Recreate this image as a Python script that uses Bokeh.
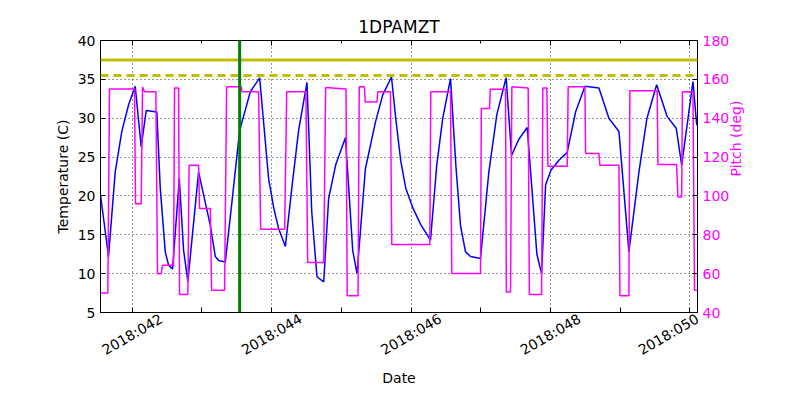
import math
from bokeh.plotting import figure
from bokeh.models import (Range1d, LinearAxis, FixedTicker, Span, CustomLabelingPolicy,
                          CustomJSTickFormatter)
from bokeh.embed import file_html
from bokeh.resources import INLINE

chart_title = "1DPAMZT"
x_label = "Date"
y_label = "Temperature (C)"
y2_label = "Pitch (deg)"

x_tick_days = [42, 44, 46, 48, 50]
x_tick_labels = ["2018:042", "2018:044", "2018:046", "2018:048", "2018:050"]
x_minor_days = [43, 45, 47, 49]
temp_ticks = [5, 10, 15, 20, 25, 30, 35, 40]
pitch_ticks = [40, 60, 80, 100, 120, 140, 160, 180]

temp_days = [41.545, 41.660, 41.756, 41.851, 41.947, 42.043, 42.129, 42.201, 42.353, 42.402,
             42.474, 42.521, 42.579, 42.675, 42.737, 42.798, 42.952, 43.120, 43.192, 43.239,
             43.335, 43.440, 43.541, 43.694, 43.828, 43.957, 44.029, 44.100, 44.197, 44.302,
             44.388, 44.507, 44.575, 44.650, 44.747, 44.818, 44.919, 45.058, 45.106, 45.163,
             45.225, 45.345, 45.489, 45.594, 45.719, 45.780, 45.852, 45.924, 46.024, 46.139,
             46.279, 46.369, 46.455, 46.566, 46.642, 46.709, 46.781, 46.853, 46.996, 47.116,
             47.231, 47.364, 47.442, 47.546, 47.666, 47.733, 47.805, 47.872, 47.930, 48.006,
             48.121, 48.240, 48.360, 48.494, 48.695, 48.838, 48.982, 49.125, 49.269, 49.384,
             49.523, 49.675, 49.804, 49.882, 50.044, 50.098]
temp_vals = [20.1, 12.2, 23.1, 28.3, 31.7, 34.1, 26.3, 31.0, 30.8, 21.0,
             12.8, 11.1, 10.6, 22.2, 13.0, 9.0, 23.1, 16.2, 12.2, 11.7,
             11.5, 20.0, 28.4, 33.4, 35.2, 22.2, 18.5, 15.8, 13.5, 22.0,
             28.5, 34.6, 18.0, 9.6, 8.95, 19.7, 24.0, 27.5, 21.0, 13.0,
             10.0, 23.5, 29.5, 33.0, 35.3, 30.0, 24.5, 21.0, 18.5, 16.3,
             14.3, 24.0, 30.0, 35.1, 24.0, 16.2, 12.8, 12.2, 11.95, 23.1,
             30.5, 35.2, 25.2, 27.3, 28.8, 21.0, 12.5, 10.0, 21.4, 23.3,
             24.6, 25.6, 30.8, 34.1, 33.9, 30.0, 28.3, 12.8, 23.1, 30.0,
             34.3, 30.2, 28.7, 23.95, 34.7, 29.1]

pitch_days = [41.545, 41.650, 41.674, 42.033, 42.047, 42.129, 42.148, 42.177, 42.339, 42.363,
              42.416, 42.434, 42.593, 42.607, 42.665, 42.679, 42.798, 42.816, 42.952, 42.966,
              43.120, 43.139, 43.325, 43.354, 43.565, 43.576, 43.813, 43.842, 44.187, 44.216,
              44.492, 44.517, 44.747, 44.775, 45.067, 45.084, 45.239, 45.257, 45.331, 45.343,
              45.512, 45.522, 45.704, 45.723, 46.269, 46.283, 46.566, 46.584, 46.996, 47.008,
              47.125, 47.136, 47.355, 47.367, 47.427, 47.446, 47.680, 47.697, 47.872, 47.891,
              47.948, 47.963, 48.240, 48.254, 48.494, 48.504, 48.695, 48.709, 48.982, 48.996,
              49.125, 49.139, 49.531, 49.541, 49.809, 49.828, 49.882, 49.893, 50.044, 50.066,
              50.101]
pitch_vals = [50, 50, 155, 155, 96, 96, 156, 153.6, 153.6, 60,
              60, 64.3, 64.3, 155.6, 155.6, 49.3, 49.3, 115.8, 115.8, 93.5,
              93.5, 51.5, 51.5, 156.2, 156.2, 153.6, 153.6, 82.9, 82.9, 153.6,
              153.6, 65.7, 65.7, 155.8, 155, 48.6, 48.6, 156.2, 156.2, 148.4,
              148.4, 153.6, 153.6, 75, 75, 153.6, 153.6, 60.1, 60.1, 145,
              145, 154.9, 154.9, 50.6, 50.6, 156.2, 155.5, 49.3, 49.3, 155.6,
              155.6, 115.3, 115.3, 156.2, 156.2, 121.8, 121.8, 115.8, 115.8, 48.6,
              48.6, 154.1, 154.1, 116.2, 116.2, 99.5, 99.5, 153.6, 153.6, 51.5,
              51.5]

limit_solid = 37.5
limit_dashed = 35.5
marker_day = 43.541
x_start, x_end = 41.545, 50.109

FONT = "DejaVu Sans"
MAGENTA = "#ff00ff"
LABEL_ANGLE = math.pi / 6
LABEL_PX = 14

W, H = 800, 400
B_LEFT, B_RIGHT, B_TOP, B_BOTTOM = 100, 103, 40, 88
FRAME_W = W - B_LEFT - B_RIGHT

p = figure(width=W, height=H, output_backend="svg", toolbar_location=None,
           x_range=Range1d(x_start, x_end), y_range=Range1d(temp_ticks[0], temp_ticks[-1]),
           title=chart_title, x_axis_label=x_label, y_axis_label=y_label,
           min_border_left=B_LEFT, min_border_right=B_RIGHT,
           min_border_top=B_TOP, min_border_bottom=B_BOTTOM)
p.extra_y_ranges = {"pitch": Range1d(pitch_ticks[0], pitch_ticks[-1])}

p.background_fill_color = "white"
p.border_fill_color = "white"
p.outline_line_color = "black"
p.outline_line_width = 1

p.title.text_font = FONT
p.title.text_font_size = "17px"
p.title.text_font_style = "normal"
p.title.text_color = "black"
p.title.align = "center"
p.title.standoff = 0

bottom = p.below[0]
left = p.left[0]

no_labels = CustomLabelingPolicy(code="return []")

right = LinearAxis(y_range_name="pitch", axis_label=y2_label,
                   ticker=FixedTicker(ticks=pitch_ticks, minor_ticks=[]))
p.add_layout(right, "right")

top = LinearAxis(ticker=FixedTicker(ticks=x_tick_days, minor_ticks=x_minor_days))
p.add_layout(top, "above")

left.ticker = FixedTicker(ticks=temp_ticks, minor_ticks=[])

for ax in (bottom, left, right, top):
    ax.axis_line_color = "black"
    ax.major_tick_in = 5
    ax.major_tick_out = 0
    ax.minor_tick_in = 3
    ax.minor_tick_out = 0
    ax.major_tick_line_color = "black"
    ax.minor_tick_line_color = "black"
    ax.axis_label_text_font = FONT
    ax.axis_label_text_font_style = "normal"
    ax.axis_label_text_font_size = "14px"
    ax.axis_label_text_color = "black"
    ax.major_label_text_font = FONT
    ax.major_label_text_color = "black"
    ax.major_label_text_font_size = "%dpx" % LABEL_PX
    ax.axis_label_standoff = 4

top.major_label_policy = no_labels
top.major_label_text_font_size = "1px"
top.major_label_standoff = 0

# Bottom axis: the tick marks sit at the real days (drawn as minor ticks); the rotated
# date labels hang from invisible major ticks moved right by half the label's run, so
# that each rotated label ends up centred under its day, as in the reference.
label_len_px = 0.6 * LABEL_PX * len(x_tick_labels[0])
shift_days = (label_len_px / 2) * math.cos(LABEL_ANGLE) * (x_end - x_start) / FRAME_W
label_pos = [min(d + shift_days, x_end - 1e-6) for d in x_tick_days]
bottom.ticker = FixedTicker(ticks=label_pos, minor_ticks=sorted(x_tick_days + x_minor_days))
bottom.formatter = CustomJSTickFormatter(
    args=dict(pos=label_pos, labels=x_tick_labels),
    code="""
let best = 0, bd = Infinity;
for (let i = 0; i < pos.length; i++) {
  const d = Math.abs(pos[i] - tick);
  if (d < bd) { bd = d; best = i; }
}
return labels[best];
""")
bottom.major_tick_line_color = None
bottom.minor_tick_in = 5
bottom.major_label_orientation = LABEL_ANGLE
bottom.major_label_standoff = 5
bottom.axis_label_standoff = 2

right.major_label_text_color = MAGENTA
right.axis_label_text_color = MAGENTA
right.axis_label_standoff = 4
right.axis_label_orientation = math.pi / 2

p.xgrid.ticker = FixedTicker(ticks=x_tick_days)
p.ygrid.ticker = FixedTicker(ticks=temp_ticks)
for g in (p.xgrid, p.ygrid):
    g.grid_line_color = "black"
    g.grid_line_dash = "1 3"
    g.grid_line_width = 0.8

p.line(temp_days, temp_vals, line_color="#0000ff", line_width=1.5)
p.line(pitch_days, pitch_vals, line_color=MAGENTA, line_width=1.5, y_range_name="pitch")

p.add_layout(Span(location=limit_solid, dimension="width", line_color="#bfbf00", line_width=3))
p.add_layout(Span(location=limit_dashed, dimension="width", line_color="#bfbf00", line_width=3,
                  line_dash="8 5"))
p.add_layout(Span(location=marker_day, dimension="height", line_color="#008000", line_width=3))

open("out.html", "w").write(file_html(p, INLINE))
